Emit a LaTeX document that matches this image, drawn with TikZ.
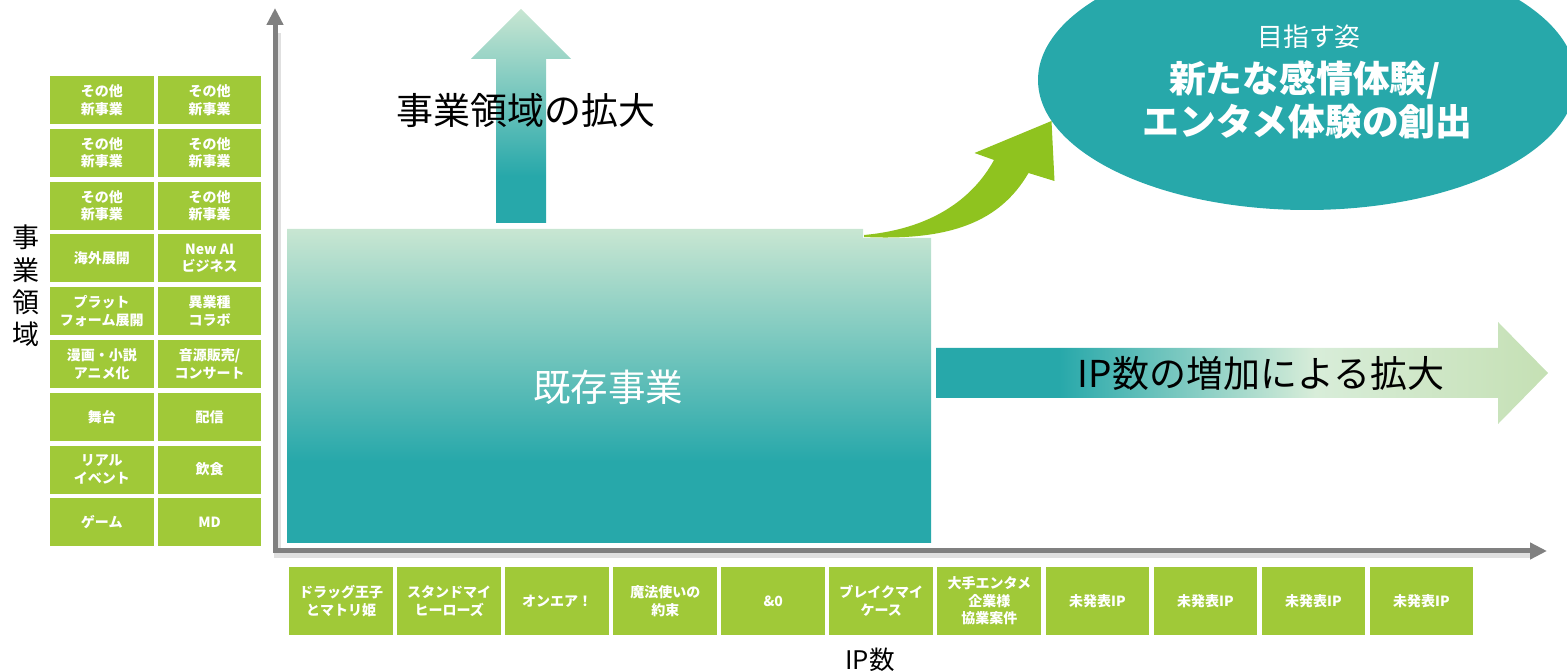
\documentclass[tikz,border=0pt]{standalone}
\usepackage{fontspec}
\setmainfont{Noto Sans CJK JP}
\usetikzlibrary{shapes.geometric,arrows.meta}
\definecolor{tealc}{HTML}{27A8AA}
\definecolor{lightg}{HTML}{C8E6D2}
\definecolor{palemint}{HTML}{D8EDD9}
\definecolor{endg}{HTML}{C5E0B4}
\definecolor{boxg}{HTML}{A0C938}
\definecolor{arrowg}{HTML}{8FC31F}
\definecolor{axisg}{HTML}{808080}
\pgfdeclareverticalshading{mainshade}{100bp}{color(0bp)=(tealc); color(25bp)=(tealc); color(38bp)=(tealc); color(75bp)=(lightg); color(100bp)=(lightg)}
\pgfdeclareverticalshading{upshade}{100bp}{color(0bp)=(tealc); color(25bp)=(tealc); color(36bp)=(tealc); color(75bp)=(lightg); color(100bp)=(lightg)}
\pgfdeclarehorizontalshading{rightshade}{100bp}{color(0bp)=(tealc); color(25bp)=(tealc); color(35bp)=(tealc); color(56bp)=(palemint); color(75bp)=(endg); color(100bp)=(endg)}
\tikzset{
  gbox/.style={fill=boxg, text=white, font=\bfseries\fontsize{7pt}{8.8pt}\selectfont, align=center, inner sep=0pt, minimum width=51.75pt, minimum height=24pt},
  ipbox/.style={gbox, minimum width=51.85pt, minimum height=34pt},
  bigtext/.style={font=\fontsize{18.5pt}{22pt}\selectfont, inner sep=0pt},
  goaltext/.style={text=white, font=\bfseries\fontsize{18.4pt}{21pt}\selectfont, inner sep=0pt},
  axisline/.style={axisg, line width=2.5pt, {Triangle[length=8.5pt,width=8pt]}-{Triangle[length=8.5pt,width=8pt]}}
}
\begin{document}
\begin{tikzpicture}[x=0.5pt, y=-0.5pt]
\useasboundingbox (0,0) rectangle (1567,672);
\clip (0,0) rectangle (1567,672);

% axes
\coordinate (O) at (275,551);
\coordinate (Ytip) at (275,8);
\coordinate (Xtip) at (1547,551);
\draw[black!12, line width=3.5pt, transform canvas={shift={(1pt,-1.5pt)}}] (275,30) -- (275,552) -- (1530,552);
\draw[axisline] (Ytip) -- (O) -- (Xtip);

% vertical axis label
\node[font=\fontsize{13.5pt}{16.2pt}\selectfont, align=center, inner sep=0pt] (ylab) at (26,286) {事\\業\\領\\域};
\node[font=\fontsize{12.8pt}{15pt}\selectfont, inner sep=0pt] (xlab) at (870,660) {IP数};

% left grid
\node[gbox] (g1a) at (101.75,100) {その他\\新事業};
\node[gbox] (g1b) at (209.65,100) {その他\\新事業};
\node[gbox] (g2a) at (101.75,152.8) {その他\\新事業};
\node[gbox] (g2b) at (209.65,152.8) {その他\\新事業};
\node[gbox] (g3a) at (101.75,205.6) {その他\\新事業};
\node[gbox] (g3b) at (209.65,205.6) {その他\\新事業};
\node[gbox] (g4a) at (101.75,258.4) {海外展開};
\node[gbox] (g4b) at (209.65,258.4) {New AI\\ビジネス};
\node[gbox] (g5a) at (101.75,311.2) {プラット\\フォーム展開};
\node[gbox] (g5b) at (209.65,311.2) {異業種\\コラボ};
\node[gbox] (g6a) at (101.75,364) {漫画・小説\\アニメ化};
\node[gbox] (g6b) at (209.65,364) {音源販売/\\コンサート};
\node[gbox] (g7a) at (101.75,416.8) {舞台};
\node[gbox] (g7b) at (209.65,416.8) {配信};
\node[gbox] (g8a) at (101.75,469.6) {リアル\\イベント};
\node[gbox] (g8b) at (209.65,469.6) {飲食};
\node[gbox] (g9a) at (101.75,522.4) {ゲーム};
\node[gbox] (g9b) at (209.65,522.4) {MD};

% bottom IP boxes
\node[ipbox] (b1) at (341.15,601) {ドラッグ王子\\とマトリ姫};
\node[ipbox] (b2) at (449.18,601) {スタンドマイ\\ヒーローズ};
\node[ipbox] (b3) at (557.21,601) {オンエア！};
\node[ipbox] (b4) at (665.24,601) {魔法使いの\\約束};
\node[ipbox] (b5) at (773.27,601) {\&0};
\node[ipbox] (b6) at (881.30,601) {ブレイクマイ\\ケース};
\node[ipbox] (b7) at (989.33,601) {大手エンタメ\\企業様\\協業案件};
\node[ipbox] (b8) at (1097.36,601) {未発表IP};
\node[ipbox] (b9) at (1205.39,601) {未発表IP};
\node[ipbox] (b10) at (1313.42,601) {未発表IP};
\node[ipbox] (b11) at (1421.45,601) {未発表IP};

% main existing business box
\path[shading=mainshade] (287,229) -- (863,229) -- (863,238) -- (931,238) -- (931,543) -- (287,543) -- cycle;
\node[bigtext, text=white, font=\fontsize{18.75pt}{22pt}\selectfont] (exist) at (608,387) {既存事業};

% up arrow
\path[shading=upshade] (496,223) -- (496,59) -- (471,59) -- (521,9) -- (571,59) -- (546,59) -- (546,223) -- cycle;
\node[bigtext] (uptext) at (526,110) {事業領域の拡大};

% right arrow
\path[shading=rightshade] (936,348) -- (1498,348) -- (1498,322) -- (1548,373) -- (1498,424) -- (1498,398) -- (936,398) -- cycle;
\node[bigtext] (righttext) at (1261,373) {IP数の増加による拡大};

% goal ellipse
\node[ellipse, fill=tealc, minimum width=269pt, minimum height=130pt, inner sep=0pt] (goal) at (1307,80) {};
\node[text=white, font=\fontsize{12.9pt}{15pt}\selectfont, inner sep=0pt] (goal1) at (1309,37) {目指す姿};
\node[goaltext] (goal2) at (1305,80) {新たな感情体験/};
\node[goaltext] (goal3) at (1307.5,122) {エンタメ体験の創出};

% curved green arrow
\fill[arrowg] (864,235) .. controls (930,229) and (972,200) .. (994,160)
  -- (974.5,153) -- (1051.5,121) -- (1054.5,181) -- (1028.5,173)
  .. controls (1000,222) and (950,241) .. (864,237) -- cycle;
\end{tikzpicture}
\end{document}
